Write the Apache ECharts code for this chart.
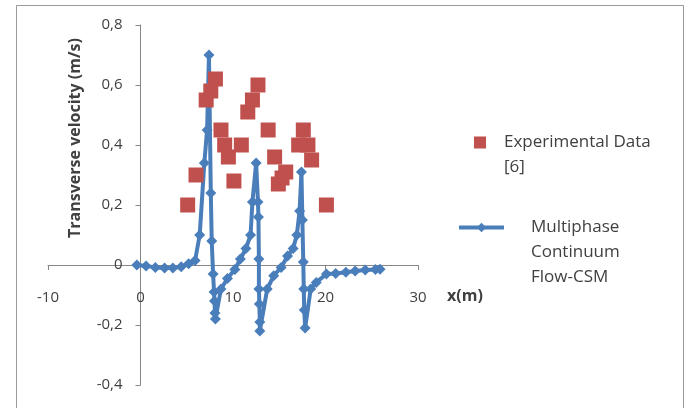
<!DOCTYPE html>
<html>
<head>
<meta charset="utf-8">
<script src="https://cdn.jsdelivr.net/npm/echarts@6/dist/echarts.min.js"></script>
<style>
    html, body { margin: 0; padding: 0; background: #fff; }
    #chart { width: 689px; height: 408px; }
</style>
</head>
<body>
<div id="chart"></div>
<script>
    //实验数据 [x(m), 横向速度(m/s)]
    let expData = [
        [5.1, 0.20], [6.0, 0.30], [7.1, 0.55], [7.6, 0.58], [8.1, 0.62],
        [8.7, 0.45], [9.1, 0.40], [9.5, 0.36], [10.1, 0.28], [10.9, 0.40],
        [11.6, 0.51], [12.1, 0.55], [12.7, 0.60], [13.8, 0.45], [14.5, 0.36],
        [14.9, 0.27], [15.3, 0.29], [15.7, 0.31], [17.1, 0.40], [17.6, 0.45],
        [18.1, 0.40], [18.5, 0.35], [20.1, 0.20]
    ];
    //多相连续流模型
    let csmData = [
        [-0.4, 0], [0.6, -0.003], [1.6, -0.008], [2.6, -0.01], [3.5, -0.01],
        [4.4, -0.006], [5.2, 0.004], [5.9, 0.015],
        [6.4, 0.10], [6.9, 0.34], [7.2, 0.45], [7.4, 0.70], [7.6, 0.24], [7.7, 0.08],
        [7.85, -0.03], [7.95, -0.09], [8.0, -0.12], [8.05, -0.16], [8.1, -0.18],
        [8.7, -0.08], [9.4, -0.045], [10.2, -0.015], [10.8, 0.02], [11.4, 0.055],
        [11.9, 0.10], [12.1, 0.21], [12.5, 0.34], [12.7, 0.21], [12.75, 0.16],
        [12.8, 0.02], [12.8, -0.08], [12.85, -0.13], [12.9, -0.19], [12.9, -0.22],
        [13.7, -0.08], [14.4, -0.036], [15.2, -0.008], [15.9, 0.03], [16.5, 0.055],
        [16.9, 0.10], [17.2, 0.18], [17.4, 0.31], [17.5, 0.15], [17.6, 0.01],
        [17.65, -0.08], [17.7, -0.15], [17.8, -0.21],
        [18.4, -0.08], [19.0, -0.058], [20.1, -0.03], [21.1, -0.028], [22.2, -0.024],
        [23.2, -0.02], [24.3, -0.017], [25.4, -0.015], [25.9, -0.014]
    ];
    let seriesNames = ['Experimental Data [6]', 'Multiphase Continuum Flow-CSM'];
    let legendLines = {
        'Experimental Data [6]': ['Experimental Data', '[6]'],
        'Multiphase Continuum Flow-CSM': ['Multiphase', 'Continuum', 'Flow-CSM']
    };
    let xTicks = { min: -10, max: 30, interval: 10 };
    let yTicks = { min: -0.4, max: 0.8, interval: 0.2 };

    let font = '"Open Sans", "Noto Sans", sans-serif';
    let textColor = '#404040';
    let axisColor = '#868686';

    //绘图区位置
    let gridBox = { left: 48, right: 271, top: 25, bottom: 23 };
    let plotW = 689 - gridBox.left - gridBox.right;
    let plotH = 408 - gridBox.top - gridBox.bottom;
    //坐标轴移到零点（v6 中 onZero 不带标签，用 offset 代替）
    let xAxisOffset = -plotH * (0 - yTicks.min) / (yTicks.max - yTicks.min);
    let yAxisOffset = -plotW * (0 - xTicks.min) / (xTicks.max - xTicks.min);

    let ec = echarts.init(document.getElementById('chart'), null, { renderer: 'canvas' });
    let options = {
        animation: false,
        backgroundColor: '#fff',
        grid: { ...gridBox, outerBoundsMode: 'none', containLabel: false },
        xAxis: {
            type: 'value',
            position: 'bottom',
            offset: xAxisOffset,
            min: xTicks.min,
            max: xTicks.max,
            interval: xTicks.interval,
            axisLine: { onZero: false, lineStyle: { color: axisColor, width: 1 } },
            axisTick: { show: true, length: 5, lineStyle: { color: axisColor } },
            splitLine: { show: false },
            axisLabel: { color: textColor, fontFamily: font, fontSize: 15, margin: 25 }
        },
        yAxis: {
            type: 'value',
            position: 'left',
            offset: yAxisOffset,
            min: yTicks.min,
            max: yTicks.max,
            interval: yTicks.interval,
            axisLine: { show: true, onZero: false, lineStyle: { color: axisColor, width: 1 } },
            axisTick: { show: true, length: 5, lineStyle: { color: axisColor } },
            splitLine: { show: false },
            axisLabel: {
                color: textColor, fontFamily: font, fontSize: 15, margin: 18,
                formatter: (v) => (Math.round(v * 10) / 10).toString().replace('.', ',')
            }
        },
        legend: [
            {
                data: [seriesNames[0]],
                left: 474, top: 109, padding: 0,
                itemWidth: 12, itemHeight: 12,
                icon: 'rect',
                selectedMode: false,
                formatter: (name) => '{a|' + legendLines[name].join('\n') + '}',
                textStyle: {
                    rich: { a: { color: textColor, fontFamily: font, fontSize: 17, lineHeight: 25, padding: [25, 0, 0, 13] } }
                }
            },
            {
                data: [seriesNames[1]],
                left: 457, top: 169, padding: 0,
                itemWidth: 45, itemHeight: 12,
                selectedMode: false,
                lineStyle: { width: 4 },
                formatter: (name) => '{a|' + legendLines[name].join('\n') + '}',
                textStyle: {
                    rich: { a: { color: textColor, fontFamily: font, fontSize: 17, lineHeight: 25, padding: [50, 0, 0, 22] } }
                }
            }
        ],
        graphic: [
            //外边框
            { type: 'rect', left: 14, top: 3, z: -10, silent: true,
              shape: { width: 667, height: 430 },
              style: { fill: 'none', stroke: '#9a9a9a', lineWidth: 1 } },
            { type: 'text', x: 75, y: 138, rotation: Math.PI / 2, z: 10,
              style: { text: 'Transverse velocity (m/s)', fill: textColor, font: 'bold 16px ' + font,
                       align: 'center', verticalAlign: 'middle' } },
            { type: 'text', left: 447, top: 288, z: 10,
              style: { text: 'x(m)', fill: textColor, font: 'bold 16px ' + font } }
        ],
        series: [
            {
                name: seriesNames[1],
                type: 'line',
                data: csmData,
                symbol: 'diamond',
                symbolSize: 11,
                showAllSymbol: true,
                color: '#4A7EBB',
                lineStyle: { width: 4, color: '#4A7EBB' },
                itemStyle: { color: '#4A7EBB' },
                z: 2
            },
            {
                name: seriesNames[0],
                type: 'scatter',
                data: expData,
                symbol: 'rect',
                symbolSize: 15,
                itemStyle: { color: '#C0504D', opacity: 1 },
                z: 3
            }
        ]
    };
    ec.setOption(options);
</script>
</body>
</html>
